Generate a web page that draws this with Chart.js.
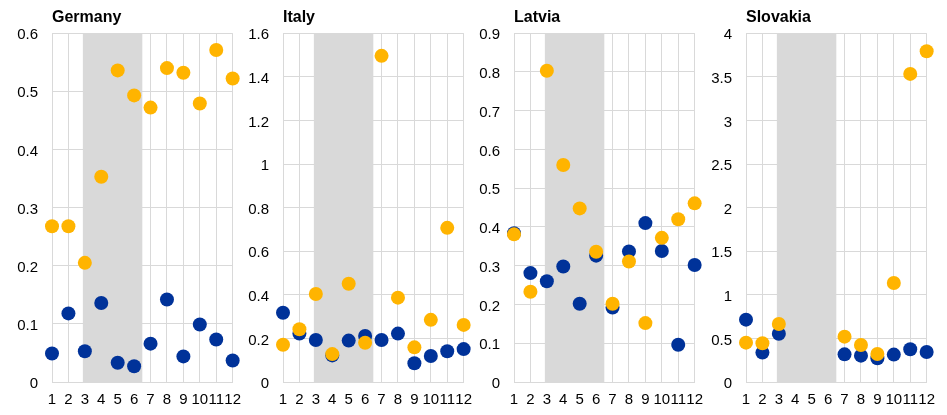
<!DOCTYPE html>
<html>
<head>
<meta charset="utf-8">
<script src="https://cdn.jsdelivr.net/npm/chart.js@4/dist/chart.umd.min.js"></script>
<style>
  body { margin: 0; background: #fff; width: 947px; height: 415px; position: relative; overflow: hidden; }
  .panel { position: absolute; top: 0; }
</style>
</head>
<body>
<div class="panel" style="left:7px"><canvas id="germany" width="243" height="415"></canvas></div>
<div class="panel" style="left:238px"><canvas id="italy" width="243" height="415"></canvas></div>
<div class="panel" style="left:469px"><canvas id="latvia" width="243" height="415"></canvas></div>
<div class="panel" style="left:701px"><canvas id="slovakia" width="243" height="415"></canvas></div>
<script>
// months on the x axis
const months = [1, 2, 3, 4, 5, 6, 7, 8, 9, 10, 11, 12];
// shaded period
const bandFrom = 2.88;
const bandTo = 6.5;

const countries = ['Germany', 'Italy', 'Latvia', 'Slovakia'];

// yellow series
const germanyYellow = [0.268, 0.268, 0.205, 0.353, 0.536, 0.493, 0.472, 0.540, 0.532, 0.479, 0.571, 0.522];
const italyYellow = [0.171, 0.242, 0.404, 0.128, 0.451, 0.180, 1.496, 0.387, 0.159, 0.285, 0.707, 0.262];
const latviaYellow = [0.381, 0.233, 0.803, 0.560, 0.448, 0.336, 0.202, 0.311, 0.152, 0.372, 0.420, 0.461];
const slovakiaYellow = [0.451, 0.444, 0.665, null, null, null, 0.520, 0.424, 0.321, 1.136, 3.533, 3.793];

// blue series
const germanyBlue = [0.049, 0.118, 0.053, 0.136, 0.033, 0.027, 0.066, 0.142, 0.044, 0.099, 0.073, 0.037];
const italyBlue = [0.318, 0.222, 0.193, 0.122, 0.190, 0.211, 0.193, 0.222, 0.086, 0.119, 0.141, 0.151];
const latviaBlue = [0.384, 0.281, 0.260, 0.298, 0.202, 0.326, 0.192, 0.337, 0.410, 0.338, 0.096, 0.302];
const slovakiaBlue = [0.715, 0.337, 0.554, null, null, null, 0.317, 0.302, 0.272, 0.314, 0.375, 0.344];

// y axis ranges
const yMax = [0.6, 1.6, 0.9, 4];
const yStep = [0.1, 0.2, 0.1, 0.5];

const yellowSeries = [germanyYellow, italyYellow, latviaYellow, slovakiaYellow];
const blueSeries = [germanyBlue, italyBlue, latviaBlue, slovakiaBlue];
const canvasIds = ['germany', 'italy', 'latvia', 'slovakia'];

const YELLOW = '#FFB400';
const BLUE = '#003299';
const GRID = '#d9d9d9';

// grey band behind the points
const bandPlugin = {
    id: 'band',
    beforeDatasetsDraw(chart) {
        const { ctx, chartArea, scales } = chart;
        const x1 = scales.x.getPixelForValue(bandFrom);
        const x2 = scales.x.getPixelForValue(bandTo);
        ctx.save();
        ctx.fillStyle = '#d9d9d9';
        ctx.fillRect(x1, chartArea.top, x2 - x1, chartArea.bottom - chartArea.top);
        ctx.restore();
    }
};

function toPoints(values) {
    return months.map((m, i) => ({ x: m, y: values[i] }));
}

Chart.defaults.font.family = '"Liberation Sans", Arial, sans-serif';
Chart.defaults.color = '#000';

countries.forEach((name, i) => {
    new Chart(document.getElementById(canvasIds[i]), {
        type: 'scatter',
        data: {
            datasets: [
                {
                    label: 'yellow',
                    data: toPoints(yellowSeries[i]),
                    backgroundColor: YELLOW,
                    borderWidth: 0,
                    pointRadius: 7,
                    clip: false
                },
                {
                    label: 'blue',
                    data: toPoints(blueSeries[i]),
                    backgroundColor: BLUE,
                    borderWidth: 0,
                    pointRadius: 7,
                    clip: false
                }
            ]
        },
        options: {
            responsive: false,
            animation: false,
            devicePixelRatio: 1,
            layout: { padding: { top: 5, right: 12, bottom: 3, left: 0 } },
            plugins: {
                legend: { display: false },
                tooltip: { enabled: false },
                title: {
                    display: true,
                    text: name,
                    align: 'start',
                    fullSize: false,
                    color: '#000',
                    font: { size: 16, weight: 'bold' },
                    padding: { top: 3, bottom: 6 }
                }
            },
            scales: {
                x: {
                    type: 'linear',
                    min: 1,
                    max: 12,
                    grid: { color: GRID, drawTicks: false },
                    border: { color: GRID },
                    ticks: {
                        stepSize: 1,
                        autoSkip: false,
                        maxRotation: 0,
                        padding: 9,
                        font: { size: 15 }
                    },
                    afterFit(scale) { scale.height = 30; }
                },
                y: {
                    min: 0,
                    max: yMax[i],
                    grid: { color: GRID, drawTicks: false },
                    border: { color: GRID },
                    ticks: {
                        stepSize: yStep[i],
                        padding: 14,
                        labelOffset: 2,
                        font: { size: 15 },
                        callback: v => String(+v.toFixed(2))
                    },
                    afterFit(scale) { scale.width = 45; }
                }
            }
        },
        plugins: [bandPlugin]
    });
});
</script>
</body>
</html>
